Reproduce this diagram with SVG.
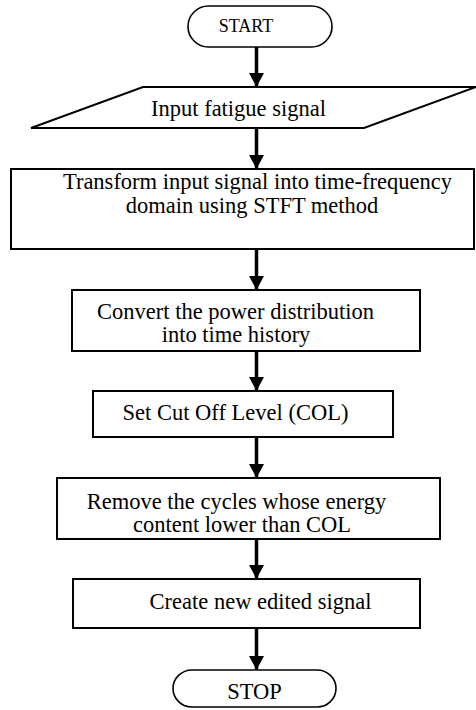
<svg xmlns="http://www.w3.org/2000/svg" width="476" height="710" viewBox="0 0 476 710">
  <defs>
    <marker id="arrowhead" viewBox="0 0 14 15" refX="14" refY="7.5" markerWidth="14" markerHeight="15" markerUnits="userSpaceOnUse" orient="auto">
      <path d="M0,0 L14,7.5 L0,15 z" fill="#000"/>
    </marker>
    <style>
      .shape { fill: #fff; stroke: #000; stroke-width: 2; }
      .term { fill: #fff; stroke: #000; stroke-width: 1.6; }
      .label { font-family: "Liberation Serif", "Times New Roman", serif; font-size: 22.5px; fill: #000; text-anchor: middle; }
      .small { font-size: 18px; }
      .flow { stroke: #000; stroke-width: 3.5; fill: none; marker-end: url(#arrowhead); }
    </style>
  </defs>
  <rect width="476" height="710" fill="#fff"/>

  <g id="connectors">
    <line class="flow" x1="256.5" y1="47" x2="256.5" y2="87"/>
    <line class="flow" x1="256.5" y1="128" x2="256.5" y2="169"/>
    <line class="flow" x1="256.5" y1="249" x2="256.5" y2="290"/>
    <line class="flow" x1="256.5" y1="351" x2="256.5" y2="391"/>
    <line class="flow" x1="256.5" y1="437" x2="256.5" y2="478"/>
    <line class="flow" x1="256.5" y1="539" x2="256.5" y2="579"/>
    <line class="flow" x1="256.5" y1="628" x2="256.5" y2="670"/>
  </g>

  <g id="start">
    <rect class="term" x="188" y="6" width="144" height="41" rx="20.5" ry="20.5"/>
    <text class="label small" x="246" y="32">START</text>
  </g>

  <g id="input">
    <polygon class="shape" points="143,87 476,87 364,128 31,128"/>
    <text class="label" x="238.5" y="116">Input fatigue signal</text>
  </g>

  <g id="transform">
    <rect class="shape" x="11" y="169" width="463" height="80"/>
    <text class="label" x="257.5" y="189">Transform input signal into time-frequency</text>
    <text class="label" x="252" y="213">domain using STFT method</text>
  </g>

  <g id="convert">
    <rect class="shape" x="72" y="290" width="348" height="61"/>
    <text class="label" x="235.5" y="319">Convert the power distribution</text>
    <text class="label" x="236" y="342">into time history</text>
  </g>

  <g id="set-col">
    <rect class="shape" x="93" y="391" width="300" height="46"/>
    <text class="label" x="235.5" y="420">Set Cut Off Level (COL)</text>
  </g>

  <g id="remove">
    <rect class="shape" x="57" y="478" width="383" height="61"/>
    <text class="label" x="236.5" y="509">Remove the cycles whose energy</text>
    <text class="label" x="242" y="532">content lower than COL</text>
  </g>

  <g id="create">
    <rect class="shape" x="73" y="579" width="347" height="49"/>
    <text class="label" x="260.5" y="609">Create new edited signal</text>
  </g>

  <g id="stop">
    <rect class="term" x="173" y="670" width="163" height="37" rx="19" ry="18.5"/>
    <text class="label" x="254.5" y="699">STOP</text>
  </g>
</svg>
